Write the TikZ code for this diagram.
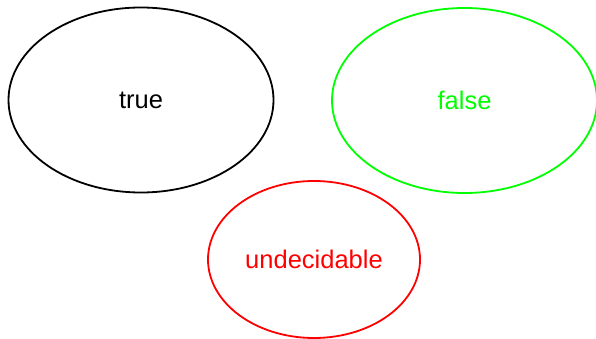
\documentclass[tikz,border=0pt]{standalone}
\usepackage{fontspec}
\setmainfont{Liberation Sans}
\usetikzlibrary{shapes.geometric}
\definecolor{Green}{RGB}{0,255,0}
\definecolor{Red}{RGB}{255,0,0}
\tikzset{
 value/.style={draw, ellipse, line width=1.8pt, inner sep=0pt, font=\fontsize{25.5}{30}\selectfont},
 bigvalue/.style={value, minimum width=265pt, minimum height=185pt},
 smallvalue/.style={value, minimum width=212pt, minimum height=157pt}
}
\begin{document}
\begin{tikzpicture}[x=1pt,y=-1pt]
\useasboundingbox (0,0) rectangle (596,339);
\node[bigvalue] (true) at (141,100) {true};
\node[bigvalue,draw=Green,text=Green] (false) at (464.5,100.5) {false};
\node[smallvalue,draw=Red,text=Red] (undecidable) at (314,259.5) {undecidable};
\end{tikzpicture}
\end{document}
